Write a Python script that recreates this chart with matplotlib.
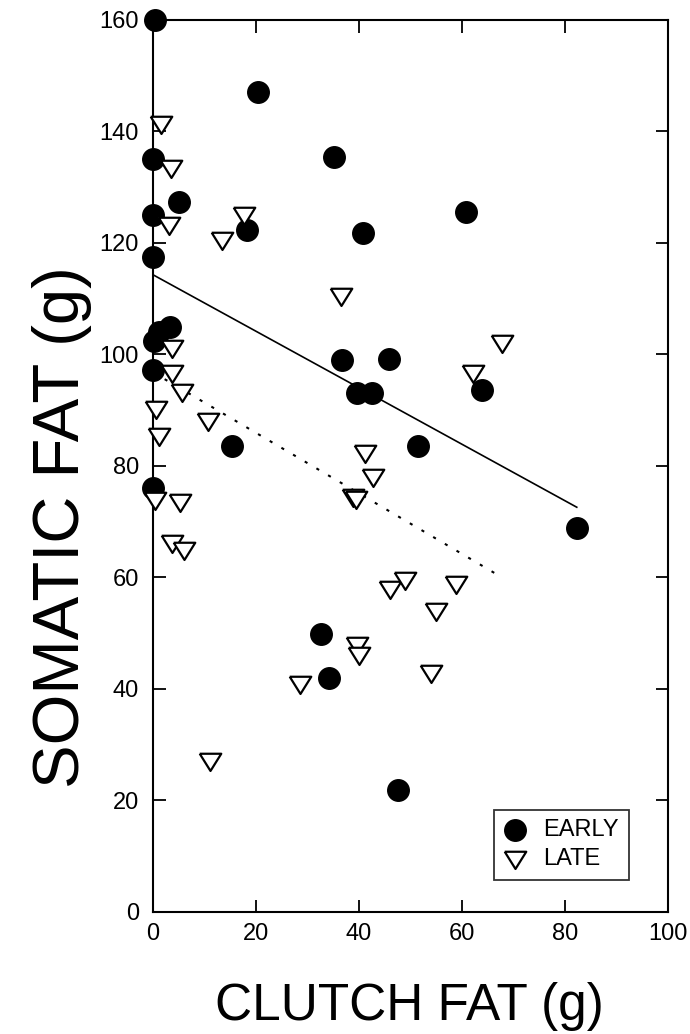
import matplotlib.pyplot as plt
import numpy as np

# Early clutches (filled circles)
early_x = [0.3, 20.3, 0.1, 5.1, 0.0, 18.2, 0.0, 3.3, 1.2, 0.2, 0.0, 15.3, 0.0,
           35.2, 40.7, 60.8, 36.8, 45.8, 39.6, 42.5, 63.8, 51.5, 82.4,
           32.6, 34.2, 47.6]
early_y = [160.0, 147.0, 135.0, 127.3, 125.0, 122.3, 117.5, 105.0, 104.0, 102.5, 97.2, 83.6, 76.0,
           135.4, 121.7, 125.5, 99.0, 99.2, 93.0, 93.0, 93.7, 83.5, 68.8,
           49.9, 42.0, 21.8]

# Late clutches (open triangles)
late_x = [1.6, 3.5, 3.2, 17.7, 13.5, 3.6, 3.6, 5.6, 0.6, 10.7, 1.2, 0.4, 5.2, 3.6, 6.0,
          36.5, 67.7, 62.2, 41.2, 42.7, 38.8, 39.4, 46.0, 48.9, 58.8, 55.0,
          39.7, 40.1, 54.0, 28.5, 11.1]
late_y = [141.4, 133.4, 123.2, 125.0, 120.6, 101.1, 96.6, 93.3, 90.3, 88.0, 85.3, 73.9, 73.6, 66.1, 64.9,
          110.4, 102.1, 96.6, 82.3, 78.0, 74.5, 74.0, 57.9, 59.6, 58.9, 53.9,
          47.9, 46.1, 42.8, 40.9, 27.0]

# Fitted lines (end points)
early_fit_x = [0, 82.3]
early_fit_y = [114.3, 72.6]
late_fit_x = [0, 67.8]
late_fit_y = [96.8, 60.0]

plt.rcParams['font.family'] = ['Liberation Sans', 'DejaVu Sans']

fig = plt.figure(figsize=(6.9, 10.34), dpi=100)
ax = fig.add_axes([0.2217, 0.118, 0.7463, 0.8627])

tri = [(-1, 0.72), (1, 0.72), (0, -0.88), (-1, 0.72)]

ax.plot(early_fit_x, early_fit_y, color='black', lw=1.2)
ax.plot(late_fit_x, late_fit_y, color='black', lw=1.5, linestyle=(0, (1.5, 5)))

ax.scatter(early_x, early_y, s=15.5**2, marker='o', color='black', zorder=3,
           clip_on=False, label='EARLY')
ax.scatter(late_x, late_y, s=15.5**2, marker=tri, facecolor='white', edgecolor='black',
           linewidth=1.6, zorder=3, clip_on=False, label='LATE')

ax.set_xlim(0, 100)
ax.set_ylim(0, 160)
ax.set_xticks(np.arange(0, 101, 20))
ax.set_yticks(np.arange(0, 161, 20))
ax.tick_params(direction='in', length=9, width=1.3, top=True, right=True,
               labelsize=17)
ax.tick_params(axis='y', pad=10)
ax.tick_params(axis='x', pad=8)
for s in ax.spines.values():
    s.set_linewidth(1.5)

# axis titles placed as figure text
fig.text(0.594, 0.0135, 'CLUTCH FAT (g)', fontsize=37, ha='center', va='baseline')
fig.text(0.09, 0.49, 'SOMATIC FAT (g)', fontsize=47, ha='center', va='center',
         rotation=90)

leg = ax.legend(loc='lower left', bbox_to_anchor=(0.662, 0.036), borderaxespad=0,
                fontsize=17, frameon=True, fancybox=False, edgecolor='black',
                handletextpad=0.7, borderpad=0.4, labelspacing=0.3,
                handlelength=1.0, markerscale=1.0)
leg.get_frame().set_linewidth(1.3)

fig.savefig('out.png', dpi=100)
